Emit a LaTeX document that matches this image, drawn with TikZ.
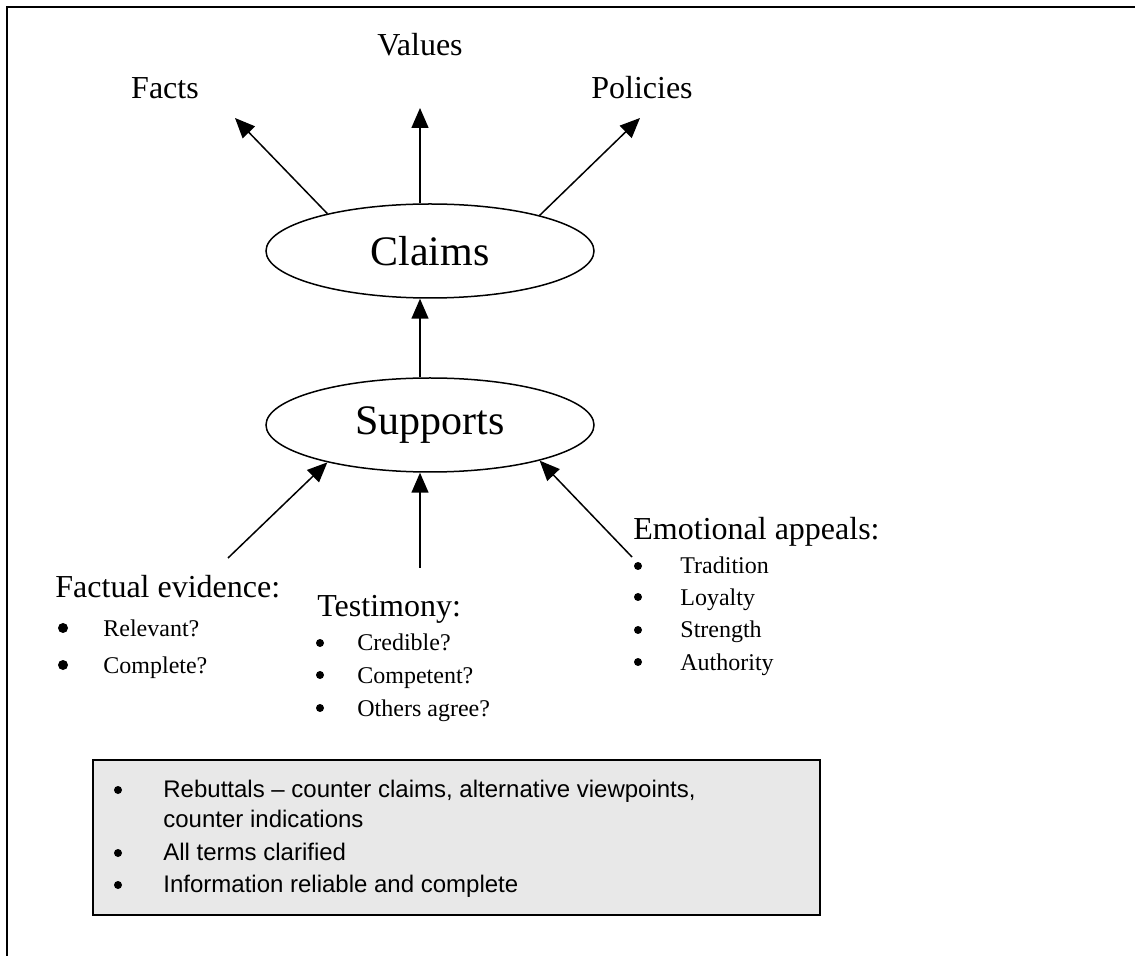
\documentclass[tikz,border=0pt]{standalone}
\usepackage{fontspec}
\setmainfont{Liberation Serif}
\setsansfont{Liberation Sans}
\usetikzlibrary{shapes.geometric, arrows.meta}

\definecolor{boxgray}{HTML}{E8E8E8}

\begin{document}
\begin{tikzpicture}[x=0.5pt, y=-0.5pt,
    bubble/.style={ellipse, draw, line width=0.75pt, minimum width=164pt, minimum height=47pt, inner sep=0pt, font=\fontsize{21}{25}\selectfont},
    goal/.style={anchor=base, inner sep=0pt, font=\fontsize{16}{19}\selectfont},
    head/.style={anchor=base west, inner sep=0pt, font=\fontsize{16}{19}\selectfont},
    item/.style={anchor=base west, inner sep=0pt, font=\fontsize{12}{14}\selectfont},
    dot/.style={circle, fill, inner sep=0pt, minimum size=4pt},
    bigdot/.style={circle, fill, inner sep=0pt, minimum size=5pt},
    boxitem/.style={anchor=base west, inner sep=0pt, font=\sffamily\fontsize{12}{14}\selectfont},
    link/.style={-{Triangle[length=10pt, width=8.5pt]}, line width=0.75pt}
]
    \useasboundingbox (0,0) rectangle (1135,956);

    % Frame
    \draw[line width=1.25pt] (7,956) -- (7,7) -- (1135,7);

    % Draw ellipses
    \node[bubble] (claims) at (430,251) {Claims};
    \node[bubble] (supports) at (430,425) {Supports};

    % Kinds of claims
    \node[goal] (facts) at (165,99) {Facts};
    \node[goal] (values) at (420,56) {Values};
    \node[goal] (policies) at (642,99) {Policies};

    \coordinate (factstip) at (235,118);
    \coordinate (valuestip) at (420,108);
    \coordinate (policiestip) at (640,118);

    % Draw connections
    \draw[link] (claims.160) -- (factstip);
    \draw[link] (claims.north -| valuestip) -- (valuestip);
    \draw[link] (claims.18) -- (policiestip);
    \draw[link] (supports.north -| valuestip) -- (claims.south -| valuestip);

    \coordinate (evidtail) at (228,558);
    \coordinate (testtail) at (420,568);
    \coordinate (emottail) at (632,557);

    \draw[link] (evidtail) -- (supports.200);
    \draw[link] (testtail) -- (supports.south -| testtail);
    \draw[link] (emottail) -- (supports.342);

    % Factual evidence
    \node[head] (evid) at (55,597) {Factual evidence:};
    \node[bigdot] (evid1b) at (63,628) {};
    \node[item] (evid1) at (103,637) {Relevant?};
    \node[bigdot] (evid2b) at (63,665) {};
    \node[item] (evid2) at (103,674) {Complete?};

    % Testimony
    \node[head] (test) at (317,617) {Testimony:};
    \node[dot] (test1b) at (320,643) {};
    \node[item] (test1) at (357,651) {Credible?};
    \node[dot] (test2b) at (320,675) {};
    \node[item] (test2) at (357,683) {Competent?};
    \node[dot] (test3b) at (320,708) {};
    \node[item] (test3) at (357,716) {Others agree?};

    % Emotional appeals
    \node[head] (emot) at (633,540) {Emotional appeals:};
    \node[dot] (emot1b) at (638,566) {};
    \node[item] (emot1) at (680,574) {Tradition};
    \node[dot] (emot2b) at (638,597) {};
    \node[item] (emot2) at (680,605) {Loyalty};
    \node[dot] (emot3b) at (638,630) {};
    \node[item] (emot3) at (680,638) {Strength};
    \node[dot] (emot4b) at (638,662) {};
    \node[item] (emot4) at (680,670) {Authority};

    % Rebuttals box
    \node[draw, fill=boxgray, line width=1pt, minimum width=363.5pt, minimum height=77.5pt, inner sep=0pt] (rebut) at (456.5,837.5) {};
    \node[dot] (rebut1b) at (118,790) {};
    \node[boxitem] (rebut1) at (163,797) {Rebuttals -- counter claims, alternative viewpoints,};
    \node[boxitem] (rebut1c) at (163,827) {counter indications};
    \node[dot] (rebut2b) at (118,853) {};
    \node[boxitem] (rebut2) at (163,860) {All terms clarified};
    \node[dot] (rebut3b) at (118,885) {};
    \node[boxitem] (rebut3) at (163,892) {Information reliable and complete};
\end{tikzpicture}
\end{document}
